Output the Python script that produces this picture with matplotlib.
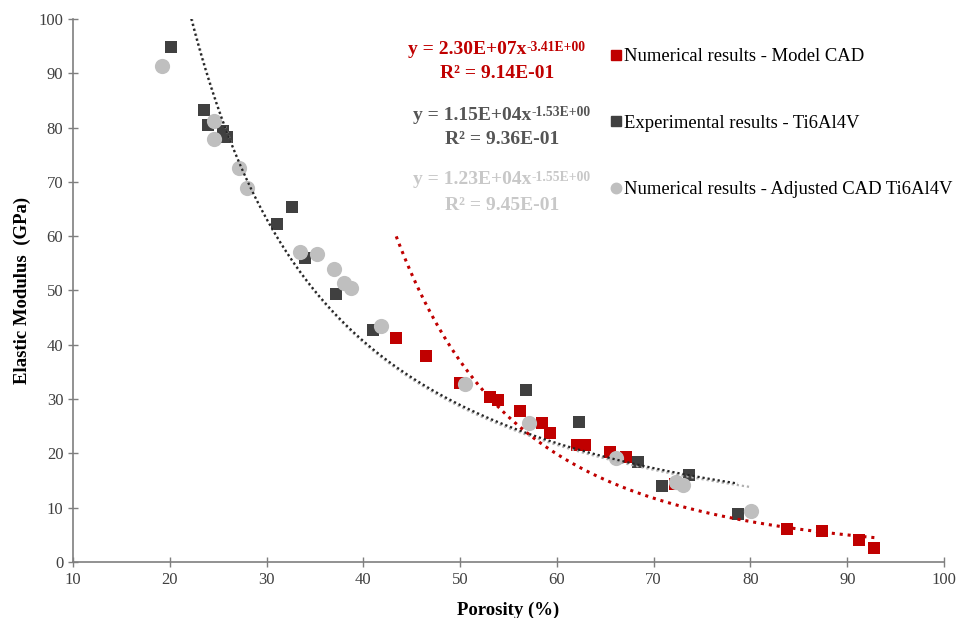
import numpy as np
import matplotlib
matplotlib.use("Agg")
import matplotlib.pyplot as plt
from matplotlib.lines import Line2D

plt.rcParams['font.family'] = ['Liberation Serif', 'DejaVu Serif']

# ---- data ----
cad_x = [43.4, 46.5, 50.0, 53.1, 53.9, 56.2, 58.5, 59.3, 62.1, 62.9, 65.5, 67.1, 72.2, 83.8, 87.4, 91.2, 92.8]
cad_y = [41.3, 38.0, 32.9, 30.3, 29.8, 27.9, 25.6, 23.7, 21.5, 21.5, 20.2, 19.3, 14.3, 6.1, 5.7, 4.0, 2.6]

exp_x = [20.1, 23.5, 24.0, 25.5, 25.9, 31.1, 32.6, 34.0, 37.2, 41.0, 56.8, 62.3, 68.4, 70.9, 73.7, 78.7]
exp_y = [94.9, 83.3, 80.5, 79.4, 78.3, 62.3, 65.3, 55.9, 49.4, 42.8, 31.6, 25.7, 18.4, 14.0, 16.0, 8.8]

adj_x = [19.2, 24.6, 24.6, 27.2, 28.0, 33.5, 35.2, 37.0, 38.0, 38.7, 41.8, 50.5, 57.1, 66.1, 72.3, 73.0, 80.1]
adj_y = [91.4, 81.2, 77.9, 72.6, 68.9, 57.0, 56.8, 53.9, 51.3, 50.4, 43.4, 32.7, 25.6, 19.1, 14.7, 14.2, 9.4]

# power-law trendline parameters (y = a * x^b), as printed on the chart
fit_cad = (2.30e7, -3.41)
fit_exp = (1.15e4, -1.53)
fit_adj = (1.23e4, -1.55)

series_names = ["Numerical results - Model CAD",
                "Experimental results - Ti6Al4V",
                "Numerical results - Adjusted CAD Ti6Al4V"]
eq_main = ["y = 2.30E+07x", "y = 1.15E+04x", "y = 1.23E+04x"]
eq_sup = ["-3.41E+00", "-1.53E+00", "-1.55E+00"]
eq_r2 = ["R² = 9.14E-01", "R² = 9.36E-01", "R² = 9.45E-01"]

xticks = [10, 20, 30, 40, 50, 60, 70, 80, 90, 100]
yticks = [0, 10, 20, 30, 40, 50, 60, 70, 80, 90, 100]

RED = '#C00000'
DARK = '#404040'
GREY = '#BFBFBF'
EQ_COLORS = [RED, '#555555', '#C8C8C8']

fig = plt.figure(figsize=(9.59, 6.18), dpi=100)
ax = fig.add_axes([0.0761, 0.0906, 0.9083, 0.8787])

ax.scatter(cad_x, cad_y, marker='s', s=85, color=RED, zorder=3, linewidths=0)
ax.scatter(exp_x, exp_y, marker='s', s=85, color=DARK, zorder=3, linewidths=0)
ax.scatter(adj_x, adj_y, marker='o', s=120, color=GREY, zorder=3, linewidths=0)

def trend(xs, p, n=300):
    xx = np.linspace(min(xs), max(xs), n)
    return xx, p[0] * xx ** p[1]

xx, yy = trend(adj_x, fit_adj)
ax.plot(xx, yy, color='#B0B0B0', lw=1.6, ls=(0, (1, 1.3)), zorder=4)
xx, yy = trend(exp_x, fit_exp)
ax.plot(xx, yy, color='#262626', lw=1.6, ls=(0, (1, 1.3)), zorder=4)
xx, yy = trend(cad_x, fit_cad)
ax.plot(xx, yy, color=RED, lw=2.2, ls=(0, (1, 1.6)), zorder=4)

ax.set_xlim(10, 100)
ax.set_ylim(0, 100)
ax.set_xticks(xticks)
ax.set_yticks(yticks)
ax.tick_params(direction='inout', length=7, width=1, color='#7F7F7F',
               labelsize=12, labelcolor='#404040')
for side in ['top', 'right']:
    ax.spines[side].set_visible(False)
for side in ['left', 'bottom']:
    ax.spines[side].set_color('#7F7F7F')
    ax.spines[side].set_linewidth(1.2)

ax.set_xlabel("Porosity (%)", fontsize=13.5, fontweight='bold', labelpad=10)
ax.set_ylabel("Elastic Modulus  (GPa)", fontsize=13.5, fontweight='bold', labelpad=5)

# equations (pixel positions from top of figure)
H = 618
eq_cx = [497, 502, 502]
eq_y1 = [50, 115, 180]
eq_y2 = [74, 140, 205]
mains, sups = [], []
for i in range(3):
    col = EQ_COLORS[i]
    t = fig.text(0, 0, eq_main[i], fontsize=14, fontweight='bold', color=col,
                 ha='left', va='center')
    s = ax.annotate(eq_sup[i], xy=(1.0, 1.02), xycoords=t, fontsize=9.8,
                    fontweight='bold', color=col, ha='left', va='top')
    mains.append(t); sups.append(s)
    fig.text(eq_cx[i] / 959, 1 - eq_y2[i] / H, eq_r2[i], fontsize=14,
             fontweight='bold', color=col, ha='center', va='center')

fig.canvas.draw()
r = fig.canvas.get_renderer()
for i in range(3):
    w1 = mains[i].get_window_extent(r).width
    w2 = sups[i].get_window_extent(r).width
    x0 = eq_cx[i] - (w1 + w2) / 2
    mains[i].set_position((x0 / 959, 1 - eq_y1[i] / H))

handles = [Line2D([], [], ls='none', marker='s', ms=7, color=RED),
           Line2D([], [], ls='none', marker='s', ms=7, color=DARK),
           Line2D([], [], ls='none', marker='o', ms=7.5, color=GREY)]
ax.legend(handles, series_names, loc='upper left', bbox_to_anchor=(0.617, 0.946),
          frameon=False, fontsize=13.4, handlelength=0.6, handletextpad=0.15,
          labelspacing=2.65, borderaxespad=0, borderpad=0)

fig.savefig("out.png", dpi=100)
